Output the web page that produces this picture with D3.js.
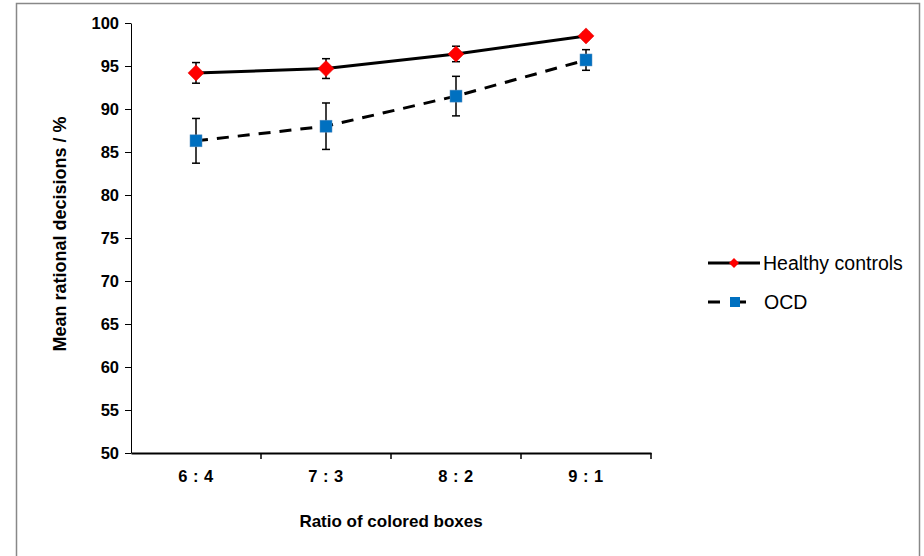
<!DOCTYPE html>
<html><head><meta charset="utf-8">
<script src="https://cdn.jsdelivr.net/npm/d3@7"></script>
<style>body{margin:0;background:#fff}svg{display:block}text{font-family:"Liberation Sans",Arial,sans-serif}</style>
</head><body><svg id="c" width="924" height="556"></svg>
<script>
const categories = ["6 : 4", "7 : 3", "8 : 2", "9 : 1"];
const healthyMean = [94.2, 94.7, 96.4, 98.5];
const healthyErr = [1.2, 1.15, 0.9, 0.4];
const ocdMean = [86.3, 88.0, 91.5, 95.7];
const ocdErr = [2.6, 2.7, 2.3, 1.2];
const yTicks = [50, 55, 60, 65, 70, 75, 80, 85, 90, 95, 100];
const seriesNames = ["Healthy controls", "OCD"];

const svg = d3.select("#c");
svg.append("rect").attr("x", 16.5).attr("y", 3.5).attr("width", 903).attr("height", 570)
  .attr("fill", "none").attr("stroke", "#888").attr("stroke-width", 1.5);

const x = d3.scaleBand().domain(categories).range([131, 651]);
const y = d3.scaleLinear().domain([50, 100]).range([453, 23]);

const yAxis = svg.append("g").attr("transform", "translate(131,0)")
  .call(d3.axisLeft(y).tickValues(yTicks).tickSize(6).tickSizeOuter(0).tickPadding(6));
yAxis.select(".domain").attr("stroke", "#000").attr("stroke-width", 1);
yAxis.selectAll(".tick line").attr("stroke", "#000");
yAxis.selectAll("text").attr("font-size", 16.5).attr("font-weight", "bold").attr("fill", "#000").attr("dy", "0.36em");

const xAxis = svg.append("g").attr("transform", "translate(0,453)")
  .call(d3.axisBottom(x).tickSize(0).tickPadding(17));
xAxis.select(".domain").attr("stroke", "#000").attr("stroke-width", 2);
xAxis.selectAll("text").attr("font-size", 16.5).attr("font-weight", "bold").attr("fill", "#000")
  .attr("letter-spacing", 0.5);
svg.append("g").selectAll("line").data(categories).join("line")
  .attr("x1", d => x(d) + x.bandwidth()).attr("x2", d => x(d) + x.bandwidth())
  .attr("y1", 453).attr("y2", 459).attr("stroke", "#000").attr("stroke-width", 1.5);

svg.append("text").attr("x", 391).attr("y", 527).attr("text-anchor", "middle")
  .attr("font-size", 17).attr("font-weight", "bold").text("Ratio of colored boxes");
svg.append("text").attr("transform", "translate(66,234) rotate(-90)").attr("text-anchor", "middle")
  .attr("font-size", 18).attr("font-weight", "bold").text("Mean rational decisions / %");

const cx = d => x(d) + x.bandwidth() / 2;
const line = d3.line().x((d, i) => cx(categories[i])).y(d => y(d));

function errBars(means, errs) {
  const g = svg.append("g");
  categories.forEach((c, i) => {
    const lo = y(means[i] - errs[i]), hi = y(means[i] + errs[i]), xx = cx(c);
    g.append("line").attr("x1", xx).attr("x2", xx).attr("y1", lo).attr("y2", hi).attr("stroke", "#000").attr("stroke-width", 1.5);
    g.append("line").attr("x1", xx - 4).attr("x2", xx + 4).attr("y1", lo).attr("y2", lo).attr("stroke", "#000").attr("stroke-width", 1.5);
    g.append("line").attr("x1", xx - 4).attr("x2", xx + 4).attr("y1", hi).attr("y2", hi).attr("stroke", "#000").attr("stroke-width", 1.5);
  });
}
errBars(ocdMean, ocdErr);
errBars(healthyMean, healthyErr);

svg.append("path").datum(ocdMean).attr("d", line).attr("fill", "none").attr("stroke", "#000")
  .attr("stroke-width", 3).attr("stroke-dasharray", "12,9");
svg.append("path").datum(healthyMean).attr("d", line).attr("fill", "none").attr("stroke", "#000")
  .attr("stroke-width", 3);

function diamondPath(s) { return `M0,${-s}L${s},0L0,${s}L${-s},0Z`; }

svg.append("g").selectAll("rect").data(ocdMean).join("rect")
  .attr("x", (d, i) => cx(categories[i]) - 6).attr("y", d => y(d) - 6)
  .attr("width", 12).attr("height", 12).attr("fill", "#0070C0").attr("stroke", "#5a8fc0").attr("stroke-width", 0.5);
svg.append("g").selectAll("path").data(healthyMean).join("path")
  .attr("transform", (d, i) => `translate(${cx(categories[i])},${y(d)})`)
  .attr("d", diamondPath(8)).attr("fill", "#FF0000").attr("stroke", "#d00").attr("stroke-width", 0.5);

const lg = svg.append("g");
lg.append("line").attr("x1", 708).attr("x2", 760).attr("y1", 263).attr("y2", 263).attr("stroke", "#000").attr("stroke-width", 3);
lg.append("path").attr("transform", "translate(734,263)").attr("d", diamondPath(5)).attr("fill", "#FF0000");
lg.append("text").attr("x", 763).attr("y", 270).attr("font-size", 19.5).text(seriesNames[0]);
lg.append("line").attr("x1", 708).attr("x2", 758).attr("y1", 302).attr("y2", 302).attr("stroke", "#000").attr("stroke-width", 3).attr("stroke-dasharray", "12,14");
lg.append("rect").attr("x", 730).attr("y", 297).attr("width", 10).attr("height", 10).attr("fill", "#0070C0");
lg.append("text").attr("x", 764).attr("y", 309).attr("font-size", 19.5).text(seriesNames[1]);
</script></body></html>
